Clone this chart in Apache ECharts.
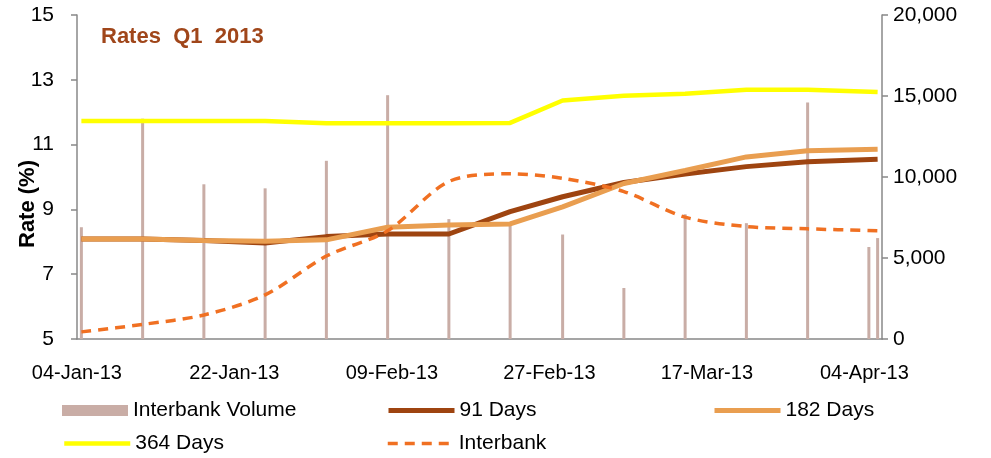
<!DOCTYPE html>
<html>
<head>
<meta charset="utf-8">
<script src="https://cdn.jsdelivr.net/npm/echarts@6/dist/echarts.min.js"></script>
<style>
  html, body { margin: 0; padding: 0; background: #fff; }
  #chart { width: 991px; height: 458px; }
</style>
</head>
<body>
<div id="chart"></div>
<script>
// weekly observation dates
const dates = ['04-Jan-13', '11-Jan-13', '18-Jan-13', '25-Jan-13', '01-Feb-13', '08-Feb-13', '15-Feb-13',
  '22-Feb-13', '28-Feb-13', '07-Mar-13', '14-Mar-13', '21-Mar-13', '28-Mar-13', '04-Apr-13', '05-Apr-13'];
const interbankVolume = [6900, 13600, 9550, 9300, 11000, 15050, 7400, 7000, 6450, 3150, 7700, 7150, 14600, 5680, 6230];
const days91 = [8.09, 8.09, 8.04, 7.96, 8.16, 8.24, 8.24, 8.93, 9.39, 9.83, 10.09, 10.32, 10.47, null, 10.55];
const days182 = [8.09, 8.09, 8.04, 8.02, 8.06, 8.45, 8.52, 8.55, 9.08, 9.80, 10.20, 10.62, 10.81, null, 10.86];
const days364 = [11.73, 11.73, 11.73, 11.73, 11.66, 11.66, 11.66, 11.67, 12.36, 12.51, 12.57, 12.69, 12.69, null, 12.62];
const interbank = [5.22, 5.45, 5.74, 6.36, 7.56, 8.34, 9.86, 10.10, 9.96, 9.55, 8.76, 8.47, 8.40, null, 8.34];
const rateTicks = [5, 7, 9, 11, 13, 15];

const font = 'Liberation Sans, Arial, sans-serif';
const months = ['Jan', 'Feb', 'Mar', 'Apr', 'May', 'Jun', 'Jul', 'Aug', 'Sep', 'Oct', 'Nov', 'Dec'];

// one category per calendar day, like the date axis of the original
const days = [];
for (let t = Date.UTC(2013, 0, 4); t <= Date.UTC(2013, 3, 5); t += 86400000) {
  const d = new Date(t);
  days.push(String(d.getUTCDate()).padStart(2, '0') + '-' + months[d.getUTCMonth()] + '-13');
}
const pairs = vals => dates.map((d, i) => [d, vals[i]]);
const every18 = i => i % 18 === 0;

function legendAt(name, left, top, lineWidth) {
  const lg = {
    data: [name], left: left, top: top, padding: 0,
    itemWidth: 66, itemHeight: 11, itemGap: 0,
    textStyle: { fontFamily: font, fontSize: 21, color: '#000' }
  };
  if (lineWidth) {
    lg.itemStyle = { opacity: 0 };
    lg.lineStyle = { width: lineWidth };
  } else {
    lg.icon = 'rect';
  }
  return lg;
}

const chart = echarts.init(document.getElementById('chart'));
chart.setOption({
  animation: false,
  title: {
    text: 'Rates  Q1  2013', left: 101, top: 26, padding: 0,
    textStyle: { fontFamily: font, fontSize: 22, fontWeight: 'bold', color: '#A0461A' }
  },
  legend: [
    legendAt('Interbank Volume', 62, 400),
    legendAt('91 Days', 386, 400, 5),
    legendAt('182 Days', 712, 400, 5),
    legendAt('364 Days', 62, 433, 4.5),
    legendAt('Interbank', 386, 433, 3.5)
  ],
  grid: { left: 77, right: 109, top: 15, bottom: 119, outerBoundsMode: 'none' },
  xAxis: {
    type: 'category',
    data: days,
    boundaryGap: true,
    axisLine: { lineStyle: { color: '#888', width: 1.5 } },
    axisTick: { interval: every18, length: 6, lineStyle: { color: '#888', width: 1.5 } },
    axisLabel: {
      interval: every18, margin: 24, padding: [0, 9, 0, 0],
      fontFamily: font, fontSize: 20, color: '#000'
    },
    splitLine: { show: false }
  },
  yAxis: [
    {
      type: 'value', min: 5, max: 15,
      name: 'Rate (%)', nameLocation: 'middle', nameGap: 38, nameRotate: 90, nameMoveOverlap: false,
      nameTextStyle: { fontFamily: font, fontSize: 22, fontWeight: 'bold', color: '#000', padding: [0, 54, 0, 0] },
      axisLine: { show: true, lineStyle: { color: '#888', width: 1.5 } },
      axisTick: { show: true, length: 6, customValues: rateTicks, lineStyle: { color: '#888', width: 1.5 } },
      axisLabel: { customValues: rateTicks, margin: 23, fontFamily: font, fontSize: 21, color: '#000' },
      splitLine: { show: false }
    },
    {
      type: 'value', min: 0, max: 20000, interval: 5000,
      axisLine: { show: true, lineStyle: { color: '#888', width: 1.5 } },
      axisTick: { show: true, length: 6, lineStyle: { color: '#888', width: 1.5 } },
      axisLabel: {
        margin: 11, fontFamily: font, fontSize: 21, color: '#000',
        formatter: v => v.toLocaleString('en-US')
      },
      splitLine: { show: false }
    }
  ],
  series: [
    {
      name: 'Interbank Volume', type: 'bar', yAxisIndex: 1, barWidth: 3,
      itemStyle: { color: '#C9ADA6' },
      data: pairs(interbankVolume)
    },
    {
      name: '91 Days', type: 'line', showSymbol: false, symbol: 'none', connectNulls: true,
      lineStyle: { color: '#9E4410', width: 5 }, itemStyle: { color: '#9E4410' },
      data: pairs(days91)
    },
    {
      name: '182 Days', type: 'line', showSymbol: false, symbol: 'none', connectNulls: true,
      lineStyle: { color: '#E99E50', width: 5 }, itemStyle: { color: '#E99E50' },
      data: pairs(days182)
    },
    {
      name: '364 Days', type: 'line', showSymbol: false, symbol: 'none', connectNulls: true,
      lineStyle: { color: '#FFFF00', width: 4.5 }, itemStyle: { color: '#FFFF00' },
      data: pairs(days364)
    },
    {
      name: 'Interbank', type: 'line', showSymbol: false, symbol: 'none', connectNulls: true, smooth: 0.3,
      lineStyle: { color: '#F07022', width: 3.5, type: [10, 7] }, itemStyle: { color: '#F07022' },
      data: pairs(interbank)
    }
  ]
});
</script>
</body>
</html>
